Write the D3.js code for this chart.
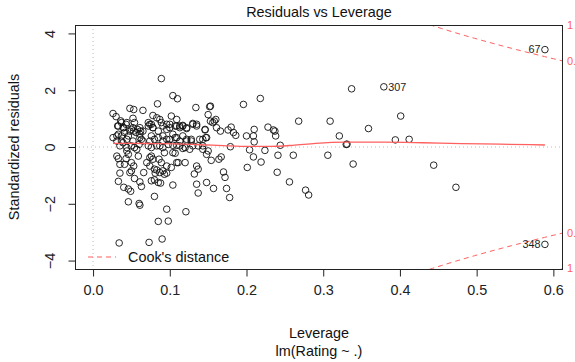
<!DOCTYPE html>
<html>
<head>
<meta charset="utf-8">
<script src="https://cdn.jsdelivr.net/npm/d3@7"></script>
<style>
  body { margin: 0; background: #fff; }
  svg text { font-family: "Liberation Sans", Arial, Helvetica, sans-serif; }
</style>
</head>
<body>
<div id="draw_svg"></div>
<script>
// observations: [leverage, standardized residual]
const obs = [
  [0.089,2.41],[0.104,1.81],[0.110,1.70],[0.084,1.52],[0.134,1.39],[0.152,1.42],
  [0.026,1.18],[0.030,1.07],[0.048,1.36],[0.053,1.32],[0.065,1.29],
  [0.078,1.11],[0.083,1.03],[0.087,0.97],[0.102,1.09],[0.109,0.97],[0.052,1.01],[0.054,0.86],
  [0.130,0.83],[0.135,0.80],[0.033,0.74],[0.037,0.86],[0.040,0.68],[0.044,0.86],[0.041,0.51],[0.046,0.39],
  [0.050,0.62],[0.053,0.56],[0.056,0.51],[0.033,0.45],[0.037,0.39],[0.061,0.68],[0.065,0.56],[0.061,0.45],[0.063,0.27],
  [0.072,0.86],[0.074,0.80],[0.078,0.68],[0.085,0.56],[0.091,0.74],[0.096,0.62],[0.100,0.80],[0.107,0.74],
  [0.113,0.74],[0.117,0.76],[0.122,0.65],[0.076,0.39],[0.080,0.27],[0.091,0.39],[0.096,0.27],[0.104,0.45],[0.109,0.33],
  [0.117,0.39],[0.122,0.21],[0.128,0.27],[0.146,0.60],[0.148,0.33],[0.143,0.27],[0.150,1.14],[0.153,1.44],[0.158,0.91],[0.156,0.86],
  [0.166,0.56],[0.176,0.60],[0.180,0.70],[0.183,0.51],[0.186,0.41],[0.196,1.50],[0.218,1.71],
  [0.200,0.39],[0.210,0.18],[0.209,0.39],[0.210,0.62],[0.228,0.70],[0.235,0.60],[0.237,0.56],[0.238,0.39],
  [0.268,0.91],[0.309,0.91],[0.401,1.09],[0.359,0.65],[0.321,0.39],[0.394,0.25],[0.412,0.27],[0.330,0.09],[0.331,0.10],
  [0.337,2.05],[0.379,2.12],[0.589,3.43],
  [0.036,0.92],[0.032,0.74],[0.039,0.68],[0.043,0.80],[0.048,0.56],[0.052,0.68],[0.058,0.62],[0.062,0.56],
  [0.072,0.74],[0.076,0.80],[0.078,0.68],[0.089,0.86],[0.096,0.80],[0.100,0.68],[0.109,0.74],[0.113,0.68],[0.117,0.74],
  [0.122,0.68],[0.130,0.80],[0.135,0.74],[0.146,0.62],[0.153,0.91],[0.160,0.97],[0.161,0.68],
  [0.026,0.33],[0.031,0.39],[0.037,0.21],[0.044,0.27],[0.052,0.21],[0.061,0.33],[0.065,0.21],[0.074,0.21],[0.085,0.33],
  [0.091,0.21],[0.100,0.27],[0.107,0.33],[0.113,0.21],[0.122,0.27],[0.128,0.21],[0.139,0.27],[0.147,0.33],
  [0.031,0.21],[0.035,0.04],[0.039,0.15],[0.044,-0.02],[0.050,0.04],[0.054,-0.02],[0.060,0.09],[0.072,0.04],[0.076,-0.02],
  [0.083,0.04],[0.087,0.04],[0.091,-0.02],[0.098,0.09],[0.104,0.06],[0.109,0.06],[0.113,0.04],[0.120,-0.02],[0.126,-0.08],
  [0.130,0.04],[0.137,0.04],[0.143,0.04],[0.143,-0.08],[0.179,0.01],[0.244,0.06],[0.224,-0.12],[0.204,-0.10],
  [0.150,-0.14],[0.148,-0.26],[0.117,-0.05],
  [0.031,-0.32],[0.033,-0.41],[0.035,-0.61],[0.035,-0.92],[0.044,-0.14],[0.046,-0.26],[0.043,-0.41],[0.041,-0.61],
  [0.050,-0.55],[0.053,-0.67],[0.048,-0.90],[0.057,-0.08],[0.059,-0.32],[0.066,-0.90],[0.070,-0.55],[0.074,-0.67],
  [0.076,-0.32],[0.078,-0.43],[0.086,-0.43],[0.089,-0.55],[0.093,-0.20],[0.096,-0.67],[0.091,-0.84],[0.087,-0.90],
  [0.104,-0.20],[0.107,-0.22],[0.109,-0.55],[0.120,-0.55],[0.135,-0.67],[0.137,-0.78],[0.132,-0.95],
  [0.033,-1.21],[0.040,-1.42],[0.046,-1.48],[0.049,-1.56],[0.050,-0.84],[0.054,-1.11],[0.061,-1.23],[0.063,-1.39],
  [0.046,-1.93],[0.060,-1.99],[0.061,-2.05],[0.076,-1.19],[0.080,-1.16],[0.085,-1.25],[0.088,-1.27],
  [0.080,-1.74],[0.081,-0.92],[0.083,-0.81],[0.096,-0.92],[0.104,-1.34],[0.096,-2.19],[0.085,-2.62],[0.098,-2.61],[0.121,-2.28],
  [0.135,-1.31],[0.137,-1.62],[0.148,-1.25],[0.157,-1.46],[0.170,-0.88],[0.172,-1.07],[0.174,-1.46],[0.178,-1.78],
  [0.154,-0.47],[0.167,-0.35],[0.201,-0.72],[0.209,-0.35],[0.219,-0.53],[0.241,-0.29],[0.240,-0.89],[0.256,-1.23],
  [0.261,-0.29],[0.277,-1.52],[0.281,-1.69],[0.306,-0.29],[0.339,-0.60],[0.444,-0.64],[0.473,-1.42],
  [0.080,-0.78],[0.093,-0.96],[0.102,-0.72],[0.111,-0.55],[0.164,-0.43],[0.074,-0.37],
  [0.034,-3.38],[0.073,-3.36],[0.090,-3.24],[0.589,-3.43]
];

// labelled extreme points
const idText = ["67", "307", "348"];
const idLev = [0.589, 0.379, 0.589];
const idRes = [3.43, 2.12, -3.43];

// red smoother
const smoothLev = [0.026,0.05,0.08,0.11,0.14,0.17,0.20,0.23,0.26,0.29,0.33,0.38,0.43,0.48,0.53,0.589];
const smoothRes = [0.13,0.13,0.12,0.11,0.08,0.05,0.02,0.02,0.06,0.13,0.17,0.17,0.15,0.12,0.10,0.07];

// Cook's distance contours
const cookLevels = [0.5, 1];
const nCoef = 29;

const xTicks = [0, 0.1, 0.2, 0.3, 0.4, 0.5, 0.6];
const yTicks = [-4, -2, 0, 2, 4];

const W = 575, H = 362;
const margin = {top: 25, right: 12, bottom: 93, left: 75};
const red = "#ff5f5f";

/**
 * R style range: extend by fraction f on each side
 */
extend = (ext, f) => {
    const d = (ext[1] - ext[0]) * f;
    return [ext[0] - d, ext[1] + d];
}

drawChart = () => {
    const svg = d3.select('#draw_svg').append('svg')
        .attr('width', W).attr('height', H);

    const x0 = margin.left, x1 = W - margin.right;
    const y0 = margin.top, y1 = H - margin.bottom;

    const xlim = extend([0, d3.max(obs, d => d[0])], 0.04);
    const ylim = extend(extend(d3.extent(obs, d => d[1]), 0.08), 0.04);

    const x = d3.scaleLinear().domain(xlim).range([x0, x1]);
    const y = d3.scaleLinear().domain(ylim).range([y1, y0]);

    svg.append('clipPath').attr('id', 'clip')
        .append('rect').attr('x', x0).attr('y', y0)
        .attr('width', x1 - x0).attr('height', y1 - y0);

    // dotted reference lines
    svg.append('line')
        .attr('x1', x0).attr('x2', x1).attr('y1', y(0)).attr('y2', y(0))
        .attr('stroke', '#bbb').attr('stroke-dasharray', '1,3');
    svg.append('line')
        .attr('x1', x(0)).attr('x2', x(0)).attr('y1', y0).attr('y2', y1)
        .attr('stroke', '#bbb').attr('stroke-dasharray', '1,3');

    // points
    svg.append('g').selectAll('circle')
        .data(obs).enter().append('circle')
        .attr('cx', d => x(d[0]))
        .attr('cy', d => y(d[1]))
        .attr('r', 3.3)
        .attr('fill', 'none')
        .attr('stroke', '#111')
        .attr('stroke-width', 0.9);

    // smoother
    const smooth = smoothLev.map((h, i) => [h, smoothRes[i]]);
    svg.append('path')
        .datum(smooth)
        .attr('d', d3.line().x(d => x(d[0])).y(d => y(d[1])).curve(d3.curveMonotoneX))
        .attr('fill', 'none').attr('stroke', red).attr('stroke-width', 1.3);

    // Cook's distance curves
    const hmax = xlim[1];
    const hh = d3.range(101).map(i => 0.005 + i * (hmax - 0.005) / 100);
    const cookG = svg.append('g').attr('clip-path', 'url(#clip)');
    cookLevels.forEach(lv => {
        [1, -1].forEach(s => {
            cookG.append('path')
                .datum(hh)
                .attr('d', d3.line().x(h => x(h)).y(h => y(s * Math.sqrt(lv * nCoef * (1 - h) / h))))
                .attr('fill', 'none').attr('stroke', red)
                .attr('stroke-width', 1).attr('stroke-dasharray', '5,4');
            svg.append('text')
                .attr('x', x1 + 4)
                .attr('y', y(s * Math.sqrt(lv * nCoef * (1 - hmax) / hmax)))
                .attr('dy', '0.35em')
                .attr('font-size', 11).attr('fill', red)
                .text(lv);
        });
    });

    // point ids
    svg.append('g').selectAll('text')
        .data(idText).enter().append('text')
        .attr('x', (d, i) => x(idLev[i]) + (idLev[i] > 0.3 && idLev[i] > 0.5 ? -4.5 : 4.5))
        .attr('y', (d, i) => y(idRes[i]))
        .attr('dy', '0.35em')
        .attr('text-anchor', (d, i) => idLev[i] > 0.5 ? 'end' : 'start')
        .attr('font-size', 10.8).attr('fill', '#222')
        .text(d => d);

    // box
    svg.append('rect')
        .attr('x', x0 + 0.5).attr('y', y0 + 0.5)
        .attr('width', x1 - x0 - 1).attr('height', y1 - y0)
        .attr('fill', 'none').attr('stroke', '#222');

    // x axis
    const xa = svg.append('g').attr('transform', `translate(0,${y1 + 0.5})`)
        .call(d3.axisBottom(x).tickValues(xTicks).tickFormat(d3.format('.1f')).tickSize(7).tickPadding(8));
    xa.select('.domain').attr('d', `M${x(0)},0H${x(0.6)}`).attr('stroke', '#222');
    xa.selectAll('.tick line').attr('stroke', '#222');
    xa.selectAll('text').attr('font-size', 14.4).attr('fill', '#222')
        .attr('font-family', '"Liberation Sans", Arial, sans-serif');

    // y axis
    const ya = svg.append('g').attr('transform', `translate(${x0 + 0.5},0)`)
        .call(d3.axisLeft(y).tickValues(yTicks).tickSize(7).tickFormat(d3.format('d')));
    ya.select('.domain').attr('d', `M0,${y(-4)}V${y(4)}`).attr('stroke', '#222');
    ya.selectAll('.tick line').attr('stroke', '#222');
    ya.selectAll('text')
        .attr('x', null).attr('dy', null)
        .attr('transform', 'translate(-21,0) rotate(-90)')
        .attr('text-anchor', 'middle')
        .attr('font-size', 14.4).attr('fill', '#222')
        .attr('font-family', '"Liberation Sans", Arial, sans-serif');

    // titles
    svg.append('text')
        .attr('x', (x0 + x1) / 2).attr('y', 17)
        .attr('text-anchor', 'middle').attr('font-size', 14.4).attr('fill', '#111')
        .text('Residuals vs Leverage');
    svg.append('text')
        .attr('x', (x0 + x1) / 2).attr('y', 338)
        .attr('text-anchor', 'middle').attr('font-size', 14.4).attr('fill', '#111')
        .text('Leverage');
    svg.append('text')
        .attr('x', (x0 + x1) / 2).attr('y', 356)
        .attr('text-anchor', 'middle').attr('font-size', 14.4).attr('fill', '#111')
        .text('lm(Rating ~ .)');
    svg.append('text')
        .attr('transform', `translate(19,${(y0 + y1) / 2}) rotate(-90)`)
        .attr('text-anchor', 'middle').attr('font-size', 14.4).attr('fill', '#111')
        .text('Standardized residuals');

    // legend
    svg.append('line')
        .attr('x1', 88).attr('x2', 116).attr('y1', 257).attr('y2', 257)
        .attr('stroke', red).attr('stroke-dasharray', '5,4');
    svg.append('text')
        .attr('x', 128).attr('y', 257).attr('dy', '0.35em')
        .attr('font-size', 14.4).attr('fill', '#111')
        .text("Cook's distance");
}

window.onload = () => {
    drawChart();
}
</script>
</body>
</html>
